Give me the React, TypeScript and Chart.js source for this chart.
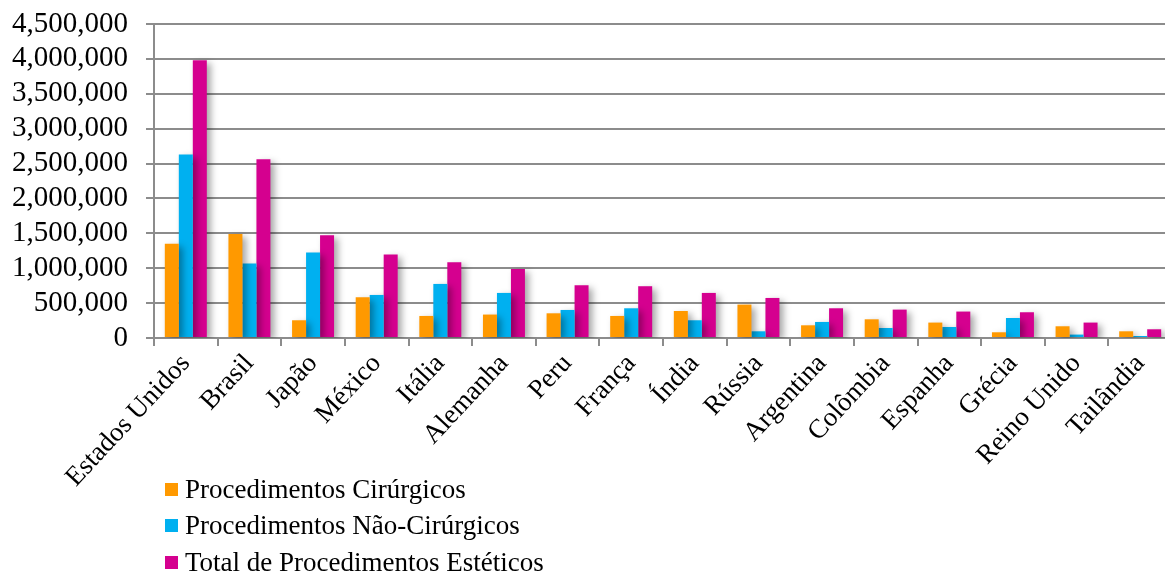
import React, { useEffect, useRef } from "react";
import { Chart, registerables } from "chart.js";

Chart.register(...registerables);

const categories = [
  "Estados Unidos", "Brasil", "Japão", "México", "Itália", "Alemanha", "Peru", "França",
  "Índia", "Rússia", "Argentina", "Colômbia", "Espanha", "Grécia", "Reino Unido", "Tailândia",
];
const cirurgicos = [1350000, 1492000, 254000, 584000, 316000, 336000, 354000, 316000, 387000, 479000, 182000, 268000, 221000, 82000, 168000, 96000];
const naoCirurgicos = [2631000, 1067000, 1225000, 617000, 775000, 646000, 402000, 426000, 254000, 96000, 230000, 143000, 158000, 287000, 49000, 29000];
const total = [3979000, 2563000, 1473000, 1196000, 1086000, 990000, 756000, 742000, 646000, 574000, 426000, 407000, 379000, 369000, 221000, 125000];
const seriesNames = ["Procedimentos Cirúrgicos", "Procedimentos Não-Cirúrgicos", "Total de Procedimentos Estéticos"];
const colors = ["#FF9900", "#00B0F0", "#D5008F"];

const FONT = '"Liberation Serif", "Times New Roman", serif';

const shadowPlugin = {
  id: "barShadow",
  beforeDatasetsDraw(chart: any) {
    const ctx = chart.ctx;
    ctx.save();
    ctx.shadowColor = "rgba(0,0,0,0.35)";
    ctx.shadowBlur = 7;
    ctx.shadowOffsetX = 4;
    ctx.shadowOffsetY = 3;
  },
  afterDatasetsDraw(chart: any) {
    chart.ctx.restore();
  },
};

export default function App() {
  const ref = useRef<HTMLCanvasElement>(null);
  useEffect(() => {
    if (!ref.current) return;
    const data = [cirurgicos, naoCirurgicos, total];
    const chart = new Chart(ref.current, {
      type: "bar",
      data: {
        labels: categories,
        datasets: data.map((d, i) => ({
          label: seriesNames[i],
          data: d,
          backgroundColor: colors[i],
          borderWidth: 0,
          barPercentage: 1,
          categoryPercentage: 0.66,
        })),
      },
      plugins: [shadowPlugin],
      options: {
        animation: false,
        responsive: false,
        maintainAspectRatio: false,
        layout: { padding: { top: 24, left: 0, right: 8, bottom: 0 } },
        plugins: { legend: { display: false }, tooltip: { enabled: false } },
        scales: {
          x: {
            grid: {
              offset: true,
              drawOnChartArea: false,
              drawTicks: true,
              tickLength: 8,
              color: "#8c8c8c",
              lineWidth: 2,
            },
            border: { color: "#8c8c8c", width: 2 },
            ticks: {
              font: { family: FONT, size: 27 },
              color: "#000",
              maxRotation: 47,
              minRotation: 47,
              autoSkip: false,
              padding: 2,
            },
            afterFit(scale: any) {
              scale.height = 574 - 338;
              scale.paddingLeft = 0;
              scale.paddingRight = 0;
              scale.paddingTop = 0;
              scale.paddingBottom = 0;
            },
          },
          y: {
            min: 0,
            max: 4500000,
            afterBuildTicks(scale: any) {
              const t = [];
              for (let v = 0; v <= 4500000; v += 500000) t.push({ value: v });
              scale.ticks = t;
            },
            ticks: {
              autoSkip: false,
              stepSize: 500000,
              font: { family: FONT, size: 29 },
              color: "#000",
              padding: 18,
              callback: (v: any) => Number(v).toLocaleString("en-US"),
            },
            grid: { color: "#8c8c8c", lineWidth: 2, tickLength: 8 },
            border: { color: "#8c8c8c", width: 2 },
            afterFit(scale: any) {
              scale.width = 154;
              scale.paddingTop = 0;
              scale.paddingBottom = 0;
              scale.paddingLeft = 0;
              scale.paddingRight = 0;
            },
          },
        },
      },
    });
    return () => chart.destroy();
  }, []);

  return (
    <div style={{ position: "fixed", left: 0, top: 0, width: 1165, height: 574, overflow: "hidden", background: "#fff" }}>
      <canvas ref={ref} width={1180} height={574} style={{ position: "absolute", left: 0, top: 0 }} />
      <div style={{ position: "absolute", left: 165, top: 471, fontFamily: FONT, fontSize: 27, color: "#000", lineHeight: 1 }}>
        {seriesNames.map((n, i) => (
          <div key={n} style={{ display: "flex", alignItems: "center", height: 36.5 }}>
            <span style={{ display: "inline-block", width: 13, height: 13, background: colors[i], marginRight: 7 }} />
            <span>{n}</span>
          </div>
        ))}
      </div>
    </div>
  );
}
